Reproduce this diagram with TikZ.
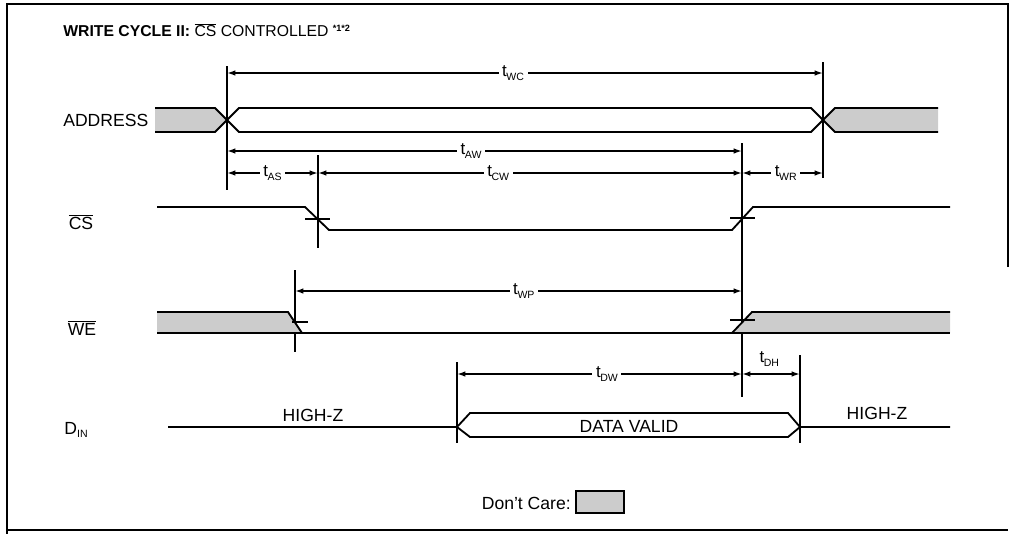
\documentclass[tikz,border=0pt]{standalone}
\usepackage{fontspec}
\setmainfont{Liberation Sans}
\usetikzlibrary{arrows.meta}
\newcommand{\tsub}[1]{t\kern-0.3pt\raisebox{-0.45ex}{\fontsize{7.5}{8}\selectfont #1}}
\newcommand{\barsig}[1]{$\overline{\mbox{#1}}$}

\begin{document}
\begin{tikzpicture}[x=0.025cm, y=-0.025cm, line join=miter,
  sig/.style={line width=1.3pt},
  edge/.style={line width=1.1pt},
  dim/.style={line width=1.1pt, {Latex[length=6pt,width=4pt]}-{Latex[length=6pt,width=4pt]}},
  dontcare/.style={fill=black!20, draw=none},
  lbl/.style={fill=white, inner sep=2.5pt, font=\fontsize{12}{14}\selectfont},
  txt/.style={inner sep=0pt, font=\fontsize{12.5}{14}\selectfont}]
  \useasboundingbox (0,0) rectangle (1010,534);
  \draw[line width=0.9pt] (1008,267) -- (1008,4) -- (7,4) -- (7,534);
  \draw[line width=0.9pt] (7,530) -- (1008,530);

  \node[txt, anchor=west, font=\fontsize{11.2}{13}\selectfont] (title) at (63,30)
    {{\bfseries WRITE CYCLE II:} \barsig{CS} CONTROLLED \raisebox{0.6ex}{\fontsize{6.5}{8}\selectfont\bfseries *1*2}};

  % signal names
  \node[txt, anchor=west] (addr) at (63,120) {ADDRESS};
  \node[txt] (cs) at (81,222) {\barsig{CS}};
  \node[txt] (we) at (82,328) {\barsig{WE}};
  \node[txt] (din) at (76,430) {D\raisebox{-0.35ex}{\fontsize{7.5}{8}\selectfont IN}};

  % timing edges
  \coordinate (as0) at (227,66);   \coordinate (as1) at (227,190);
  \coordinate (ae0) at (823,62);   \coordinate (ae1) at (823,178);
  \coordinate (cf0) at (318,155);  \coordinate (cf1) at (318,248);
  \coordinate (cr0) at (742,143);  \coordinate (cr1) at (742,397);
  \coordinate (wf0) at (295,270);  \coordinate (wf1) at (295,352);
  \coordinate (ds0) at (457,362);  \coordinate (ds1) at (457,443);
  \coordinate (de0) at (800,355);  \coordinate (de1) at (800,443);
  \foreach \a in {as,ae,cf,cr,wf,ds,de}
    \draw[edge] (\a0) -- (\a1);

  % ADDRESS
  \fill[dontcare] (155,108) -- (215,108) -- (227,120) -- (215,132) -- (155,132) -- cycle;
  \fill[dontcare] (823,120) -- (835,108) -- (938,108) -- (938,132) -- (835,132) -- cycle;
  \draw[sig] (155,108) -- (215,108) -- (239,132) -- (811,132) -- (835,108) -- (938,108);
  \draw[sig] (155,132) -- (215,132) -- (239,108) -- (811,108) -- (835,132) -- (938,132);

  % CS
  \draw[sig] (157,207) -- (305,207) -- (329,230) -- (732,230) -- (753,207) -- (950,207);
  \draw[edge] (305,219) -- (330,219);
  \draw[edge] (730,218) -- (755,218);

  % WE
  \fill[dontcare] (157,312) -- (288,312) -- (302,333) -- (157,333) -- cycle;
  \fill[dontcare] (732,333) -- (752,312) -- (950,312) -- (950,333) -- cycle;
  \draw[sig] (157,312) -- (288,312) -- (302,333);
  \draw[sig] (157,333) -- (950,333);
  \draw[sig] (732,333) -- (752,312) -- (950,312);
  \draw[edge] (292,322) -- (308,322);
  \draw[edge] (730,320) -- (755,320);

  % DIN
  \draw[sig] (168,427) -- (457,427) -- (470,413) -- (788,413) -- (800,427) -- (950,427);
  \draw[sig] (457,427) -- (470,437) -- (788,437) -- (800,427);
  \node[txt] (hz1) at (313,415) {HIGH-Z};
  \node[txt] (hz2) at (877,413) {HIGH-Z};
  \node[txt] (dv) at (629,426) {DATA VALID};

  % timing arrows
  \draw[dim] (as0 |- 0,73) -- node[lbl, pos=0.48] (twc) {\tsub{WC}} (ae0 |- 0,73);
  \draw[dim] (as0 |- 0,151) -- node[lbl, pos=0.474] (taw) {\tsub{AW}} (cr0 |- 0,151);
  \draw[dim] (as0 |- 0,173) -- node[lbl, pos=0.5] (tas) {\tsub{AS}} (cf0 |- 0,173);
  \draw[dim] (cf0 |- 0,173) -- node[lbl, pos=0.425] (tcw) {\tsub{CW}} (cr0 |- 0,173);
  \draw[dim] (cr0 |- 0,173) -- node[lbl, pos=0.54] (twr) {\tsub{WR}} (ae0 |- 0,173);
  \draw[dim] (wf0 |- 0,291) -- node[lbl, pos=0.512] (twp) {\tsub{WP}} (cr0 |- 0,291);
  \draw[dim] (ds0 |- 0,374) -- node[lbl, pos=0.526] (tdw) {\tsub{DW}} (cr0 |- 0,374);
  \draw[dim] (cr0 |- 0,374) -- node[lbl, fill=none, pos=0.47, above=2pt] (tdh) {\tsub{DH}} (de0 |- 0,374);

  % legend
  \node[txt, anchor=east] (dclbl) at (571,503) {Don't Care:};
  \draw[line width=1.3pt, fill=black!20] (576,491) rectangle (624,513);
\end{tikzpicture}
\end{document}
